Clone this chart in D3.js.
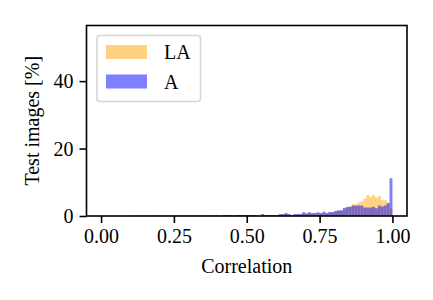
<!DOCTYPE html>
<html>
<head>
<meta charset="utf-8">
<script src="https://cdn.jsdelivr.net/npm/d3@7"></script>
<style>
  body { margin: 0; background: #fff; }
  svg { display: block; }
  text { font-family: "Liberation Serif", "Times New Roman", serif; }
</style>
</head>
<body>
<svg width="433" height="300"></svg>
<script>
// histogram bins: 100 bins of width 0.01 on [0, 1]
const binWidth = 0.01;
const binStarts = d3.range(100).map(k => k * binWidth);

// percent of test images per bin
const valuesA = [
  0, 0, 0, 0, 0, 0, 0, 0, 0, 0,
  0.1, 0.1, 0.05, 0.1, 0.1, 0.05, 0.1, 0.1, 0.1, 0.1,
  0.05, 0.1, 0.1, 0.1, 0.1, 0.05, 0.1, 0.1, 0.1, 0.1,
  0.1, 0.1, 0.1, 0.1, 0.1, 0.1, 0.1, 0.1, 0.1, 0.3,
  0.1, 0.1, 0.3, 0.3, 0.3, 0.1, 0.3, 0.3, 0.3, 0.3,
  0.3, 0.3, 0.3, 0.1, 0.1, 0.6, 0.3, 0.3, 0.3, 0.3,
  0.3, 0.6, 0.6, 0.9, 0.6, 0.3, 0.6, 0.6, 0.6, 1.1,
  0.8, 1.1, 0.9, 0.9, 1.1, 0.9, 1.3, 0.9, 1.2, 1.2,
  1.5, 1.7, 1.7, 2.4, 2.7, 2.7, 3.1, 3.1, 3.1, 3.1,
  2.5, 2.5, 2.5, 2.7, 2.3, 3.1, 2.8, 3.1, 3.9, 11.2
];
const valuesLA = [
  0, 0, 0, 0, 0, 0, 0, 0, 0, 0,
  0.05, 0.05, 0, 0.05, 0.05, 0, 0.05, 0.05, 0.05, 0.05,
  0, 0.05, 0.05, 0.05, 0.05, 0, 0.05, 0.05, 0.05, 0.05,
  0.05, 0.05, 0.05, 0.05, 0.05, 0.05, 0.05, 0.05, 0.05, 0.2,
  0.05, 0.05, 0.2, 0.2, 0.2, 0.05, 0.2, 0.2, 0.2, 0.2,
  0.2, 0.2, 0.2, 0.05, 0.05, 0.4, 0.2, 0.2, 0.2, 0.2,
  0.2, 0.4, 0.4, 0.6, 0.4, 0.2, 0.4, 0.4, 0.4, 0.8,
  0.6, 0.8, 0.7, 0.7, 0.8, 0.7, 0.8, 0.7, 0.9, 1.0,
  1.2, 1.4, 1.5, 2.0, 2.4, 2.9, 3.5, 3.5, 4.0, 4.4,
  5.1, 6.2, 5.7, 6.2, 5.5, 5.9, 4.7, 4.7, 3.5, 2.2
];

const seriesNames = ["LA", "A"];
const seriesColors = ["#ffa500", "#0000ff"];
const xTicks = [0, 0.25, 0.5, 0.75, 1.0];
const yTicks = [0, 20, 40];

const svg = d3.select("svg");
const plotLeft = 86.5, plotRight = 407, plotTop = 25.5, plotBottom = 216;

const x = d3.scaleLinear().domain([-0.05, 1.05]).range([plotLeft, plotRight]);
const y = d3.scaleLinear().domain([0, 56.5]).range([plotBottom, plotTop]);

// bars, LA first then A on top
[valuesLA, valuesA].forEach((vals, i) => {
  svg.append("g")
    .selectAll("rect")
    .data(vals.map((v, k) => ({start: binStarts[k], v: v})))
    .enter().append("rect")
    .attr("x", d => x(d.start))
    .attr("width", d => x(d.start + binWidth) - x(d.start))
    .attr("y", d => y(d.v))
    .attr("height", d => y(0) - y(d.v))
    .attr("fill", seriesColors[i])
    .attr("fill-opacity", 0.5);
});

// axes
const xAxis = d3.axisBottom(x).tickValues(xTicks).tickFormat(d3.format(".2f"))
  .tickSize(7).tickPadding(6);
const yAxis = d3.axisLeft(y).tickValues(yTicks).tickSize(7).tickPadding(6);

const gx = svg.append("g").attr("transform", `translate(0, ${plotBottom})`).call(xAxis);
const gy = svg.append("g").attr("transform", `translate(${plotLeft}, 0)`).call(yAxis);
[gx, gy].forEach(g => {
  g.select(".domain").remove();
  g.selectAll(".tick line").attr("stroke", "#000").attr("stroke-width", 1.6);
  g.selectAll(".tick text").attr("font-size", "20px").attr("fill", "#000")
    .style("font-family", "'Liberation Serif', serif");
});
gy.selectAll(".tick text").attr("dy", "0.34em");

// frame
svg.append("rect")
  .attr("x", plotLeft).attr("y", plotTop)
  .attr("width", plotRight - plotLeft).attr("height", plotBottom - plotTop)
  .attr("fill", "none").attr("stroke", "#000").attr("stroke-width", 1.6);

// labels
svg.append("text")
  .attr("x", (plotLeft + plotRight) / 2).attr("y", 273)
  .attr("text-anchor", "middle").attr("font-size", "20px")
  .text("Correlation");

svg.append("text")
  .attr("transform", `translate(39, ${(plotTop + plotBottom) / 2}) rotate(-90)`)
  .attr("text-anchor", "middle").attr("font-size", "20px")
  .text("Test images [%]");

// legend
const legend = svg.append("g");
legend.append("rect")
  .attr("x", 97).attr("y", 35.5).attr("width", 103.5).attr("height", 66)
  .attr("rx", 3).attr("fill", "#fff").attr("fill-opacity", 0.8)
  .attr("stroke", "#d6d6d6").attr("stroke-width", 1.6);
seriesNames.forEach((name, i) => {
  legend.append("rect")
    .attr("x", 106).attr("y", 45 + i * 29.5).attr("width", 41).attr("height", 14)
    .attr("fill", seriesColors[i]).attr("fill-opacity", 0.5);
  legend.append("text")
    .attr("x", 164).attr("y", 59 + i * 29.5)
    .attr("font-size", "20px")
    .text(name);
});
</script>
</body>
</html>
